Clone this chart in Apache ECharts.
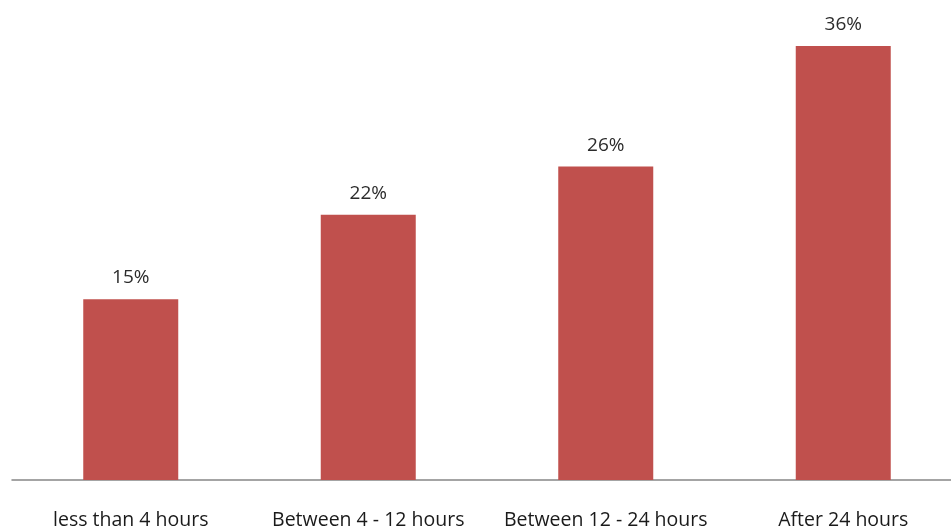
<!DOCTYPE html>
<html>
<head>
<meta charset="utf-8">
<script src="https://cdn.jsdelivr.net/npm/echarts@6/dist/echarts.min.js"></script>
<style>html,body{margin:0;padding:0;background:#fff;overflow:hidden}#c{width:962px;height:527px}</style>
</head>
<body>
<div id="c"></div>
<script>
const categories = ['less than 4 hours', 'Between 4 - 12 hours', 'Between 12 - 24 hours', 'After 24 hours'];
const values = [15, 22, 26, 36];

const chart = echarts.init(document.getElementById('c'), null, {renderer: 'canvas'});
chart.setOption({
  animation: false,
  grid: {left: 12, right: 0, top: 34, bottom: 47, containLabel: false, outerBoundsMode: 'none'},
  xAxis: {
    type: 'category',
    data: categories,
    axisLine: {lineStyle: {color: '#868686', width: 1.5}},
    axisTick: {show: false},
    axisLabel: {color: '#1a1a1a', fontSize: 19.5, fontFamily: 'Open Sans', margin: 30, interval: 0}
  },
  yAxis: {
    type: 'value', min: 0, max: 37,
    show: false,
    splitLine: {show: false}
  },
  series: [{
    type: 'bar',
    data: values,
    barWidth: 95,
    itemStyle: {color: '#C0504D'},
    label: {
      show: true, position: 'top', distance: 12,
      formatter: p => p.value + '%',
      color: '#2b2b2b', fontSize: 19, fontFamily: 'Open Sans'
    }
  }]
});
</script>
</body>
</html>
